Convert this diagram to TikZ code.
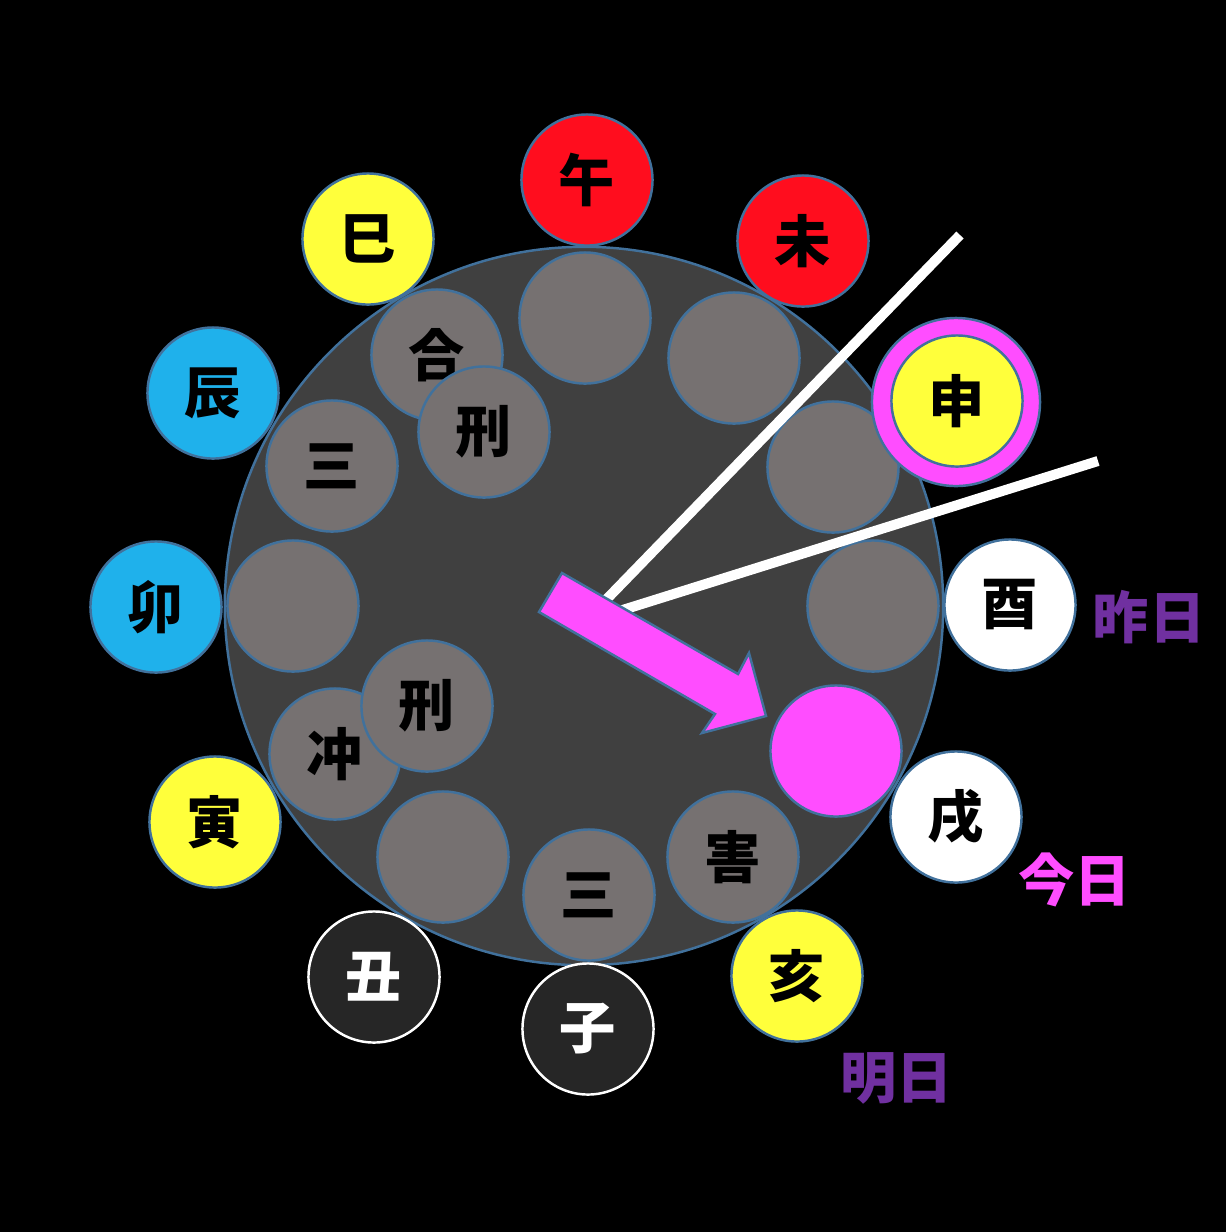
\documentclass[tikz,border=0pt]{standalone}
\usepackage{fontspec}
\newfontfamily\jpfont{Noto Sans CJK JP}
\definecolor{rim}{HTML}{41719C}
\definecolor{dialgray}{HTML}{404040}
\definecolor{slotgray}{HTML}{767171}
\definecolor{firered}{HTML}{FF0D1E}
\definecolor{earthyellow}{HTML}{FFFF3B}
\definecolor{woodblue}{HTML}{1FB1EB}
\definecolor{waterdark}{HTML}{262626}
\definecolor{todaypink}{HTML}{FF4DFF}
\definecolor{daypurple}{HTML}{7030A0}

\begin{document}
\begin{tikzpicture}[x=0.01cm,y=-0.01cm,
    ban/.style={circle,draw=rim,line width=0.7pt,minimum size=1.31cm,inner sep=0pt,
        font=\jpfont\bfseries\fontsize{16}{16}\selectfont},
    slot/.style={ban,fill=slotgray},
    hand/.style={white,line width=0.1cm},
    daylabel/.style={font=\jpfont\bfseries\fontsize{16}{16}\selectfont}]

            \fill[black] (0,0) rectangle (1226,1232);
            \useasboundingbox (0,0) rectangle (1226,1232);

            \node[circle,draw=rim,line width=0.7pt,fill=dialgray,minimum size=7.18cm,inner sep=0pt] (dial) at (584,606) {};

            % inner slots
            \foreach \n/\x/\y/\t in {s1/585/318/{},s2/734/358/{},s3/833/467/{},s4/873/606/{},
                s6/733/857/害,s7/589/895/三,s8/443/857/{},s9/335/754/冲,s10/293/606/{},
                s11/332/466/三,s12/437/355/合,kei1/484/432/刑,kei2/427/706/刑}{
                \node[slot] (\n) at (\x,\y) {\t};
            }
            \node[ban,fill=todaypink] (s5) at (836,751) {};

            % outer branches
            \node[circle,draw=rim,line width=0.7pt,fill=todaypink,minimum size=1.68cm] (saruring) at (956,402) {};
            \foreach \n/\x/\y/\c/\t in {uma/587/180/firered/午,hitsuji/803/241/firered/未,
                saru/957/401/earthyellow/申,tori/1010/605/white/酉,inu/956/817/white/戌,
                i/797/976/earthyellow/亥,tora/215/822/earthyellow/寅,u/156/607/woodblue/卯,
                tatsu/213/393/woodblue/辰,mi/368/239/earthyellow/巳}{
                \node[ban,fill=\c] (\n) at (\x,\y) {\t};
            }
            \node[ban,fill=waterdark,draw=white,text=white] (ne) at (588,1029) {子};
            \node[ban,fill=waterdark,draw=white,text=white] (ushi) at (374,977) {丑};

            % hands
            \coordinate (hubA) at (600,606);
            \coordinate (endA) at (960,235);
            \coordinate (hubB) at (613,613);
            \coordinate (endB) at (1098,461);
            \draw[hand] (hubA)--(endA);
            \draw[hand] (hubB)--(endB);

            % arrow
            \coordinate (t1) at (562,573);
            \coordinate (j1) at (738,674);
            \coordinate (b1) at (749,653);
            \coordinate (tip) at (766,716);
            \coordinate (b2) at (702,733);
            \coordinate (j2) at (715,714);
            \coordinate (t2) at (539,612);
            \filldraw[fill=todaypink,draw=rim,line width=0.7pt] (t1)--(j1)--(b1)--(tip)--(b2)--(j2)--(t2)--cycle;

            \node[daylabel,text=daypurple] (kinou) at (1149,617) {昨日};
            \node[daylabel,text=todaypink] (kyou) at (1075,880) {今日};
            \node[daylabel,text=daypurple] (ashita) at (897,1078) {明日};
        \end{tikzpicture}
\end{document}
